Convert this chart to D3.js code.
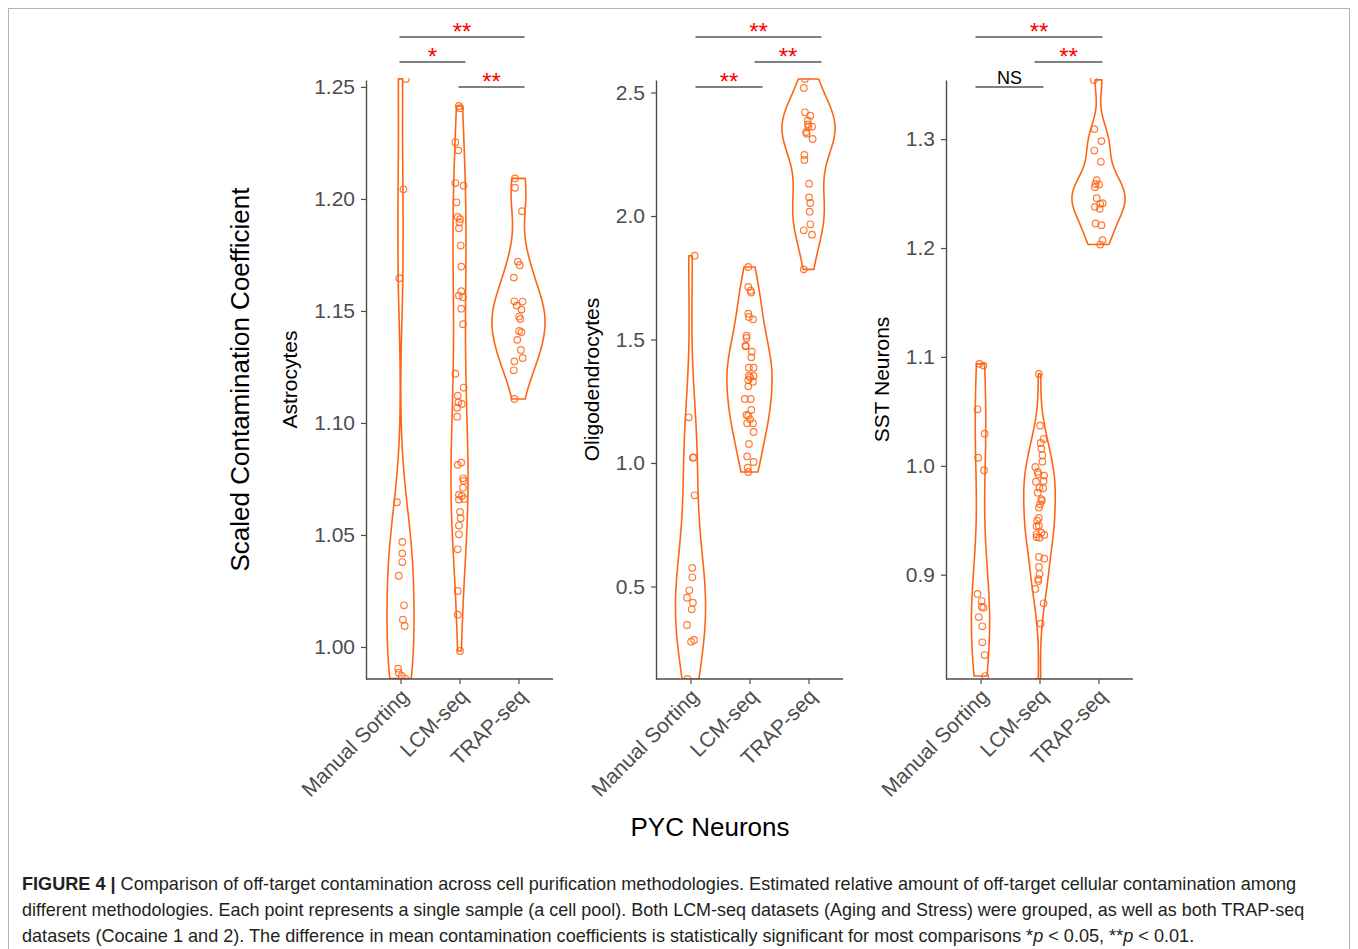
<!DOCTYPE html>
<html><head><meta charset="utf-8">
<script src="https://cdn.jsdelivr.net/npm/d3@7"></script>
<style>
body{margin:0;background:#fff}
svg{display:block}
text{font-family:"Liberation Sans",Arial,Helvetica,sans-serif}
</style>
</head><body>
<svg id="chart" width="1358" height="949"></svg>
<script>
// ---------------- DATA ----------------
const groups = ["Manual Sorting", "LCM-seq", "TRAP-seq"];
const panelTitles = ["Astrocytes", "Oligodendrocytes", "SST Neurons"];

// Astrocytes
const astroManual = [1.2536,1.2043,1.1646,1.0646,1.0469,1.0418,1.0379,1.0318,1.0186,1.0122,1.0094,0.9903,0.9885,0.9871,0.9859];
const astroManualJit = [0.09,0.05,-0.02,-0.06,0.03,0.03,0.03,-0.03,0.06,0.04,0.07,-0.04,-0.03,0.02,0.08];
const astroLCM = [1.2415,1.2405,1.2253,1.2217,1.2071,1.2059,1.1985,1.1920,1.1910,1.1896,1.1869,1.1792,1.1698,1.1588,1.1568,1.1561,1.1510,1.1441,1.1220,1.1158,1.1122,1.1092,1.1085,1.1068,1.1028,1.0823,1.0813,1.0753,1.0742,1.0711,1.0679,1.0674,1.0661,1.0658,1.0603,1.0575,1.0542,1.0503,1.0436,1.0250,1.0144,0.9982];
const astroLCMJit = [-0.01,0.01,-0.07,-0.02,-0.07,0.07,-0.05,-0.03,0.01,0,-0.01,0.02,0.03,0.03,-0.01,0.06,0.03,0.06,-0.07,0.07,-0.03,-0.02,0.04,-0.04,-0.04,0.03,-0.03,0.06,0.07,0.06,-0.01,0.04,0.08,-0.01,0.01,0.02,-0.01,-0.01,-0.03,-0.03,-0.03,0.01];
const astroTRAP = [1.2092,1.2050,1.1945,1.1720,1.1704,1.1649,1.1543,1.1542,1.1524,1.1506,1.1475,1.1464,1.1411,1.1405,1.1371,1.1326,1.1290,1.1275,1.1235,1.1107];
const astroTRAPJit = [-0.06,-0.06,0.06,-0.01,0.02,-0.08,-0.07,0.07,-0.03,0.05,0.01,0.03,0.01,0.05,-0.02,0.04,0.07,-0.07,-0.08,-0.07];
const astroTicks = [1.00,1.05,1.10,1.15,1.20,1.25];
const astroRange = [0.9857,1.2531];
const astroSig = [["Manual Sorting","TRAP-seq","**"],["Manual Sorting","LCM-seq","*"],["LCM-seq","TRAP-seq","**"]];

// Oligodendrocytes
const oligoManual = [1.8393,1.1850,1.0231,1.0215,0.8692,0.5749,0.5372,0.4846,0.4547,0.4344,0.4077,0.3441,0.2834,0.2765,0.1255];
const oligoManualJit = [0.07,-0.03,0.05,0.04,0.07,0.03,0.03,-0.02,-0.06,0.04,0.02,-0.06,0.06,0.01,-0.05];
const oligoLCM = [1.7935,1.7126,1.6977,1.6900,1.6045,1.5911,1.5816,1.5155,1.5061,1.4750,1.4723,1.4507,1.4278,1.3860,1.3860,1.3522,1.3534,1.3470,1.3360,1.3292,1.3105,1.2591,1.2591,1.2146,1.1943,1.1915,1.1769,1.1607,1.1607,1.1255,1.0769,1.0270,1.0040,0.9810,0.9636];
const oligoLCMJit = [-0.02,-0.02,0.02,0.03,-0.02,-0.01,0.06,-0.05,-0.05,-0.07,-0.06,0.04,0.03,-0.01,0.07,0.07,-0.01,0.01,-0.02,0.06,-0.02,-0.08,0.02,0.03,-0.05,-0.02,0.01,-0.04,0.06,0.07,-0.01,-0.04,0.07,-0.03,-0.02];
const oligoTRAP = [2.5547,2.5182,2.4198,2.4062,2.3873,2.3710,2.3617,2.3617,2.3401,2.3333,2.3117,2.2470,2.2267,2.1309,2.0756,2.0526,2.0175,1.9663,1.9420,1.9244,1.7841];
const oligoTRAPJit = [-0.06,-0.08,-0.06,0.03,-0.01,-0.01,0.06,0,-0.04,-0.03,0.07,-0.07,-0.07,0.01,0.01,0.03,0.02,0.03,-0.08,0.06,-0.08];
const oligoTicks = [0.5,1.0,1.5,2.0,2.5];
const oligoRange = [0.1255,2.5506];
const oligoSig = [["Manual Sorting","TRAP-seq","**"],["LCM-seq","TRAP-seq","**"],["Manual Sorting","LCM-seq","**"]];

// SST Neurons
const sstManual = [1.0936,1.0920,1.0519,1.0295,1.0075,0.9959,0.8823,0.8758,0.8706,0.8697,0.8611,0.8526,0.8379,0.8262,0.8069];
const sstManualJit = [-0.02,0.05,-0.05,0.07,-0.04,0.06,-0.05,0.02,0.02,0.05,-0.03,0.03,0.03,0.07,0.08];
const sstLCM = [1.0844,1.0369,1.0247,1.0210,1.0158,1.0097,1.0038,0.9989,0.9944,0.9922,0.9910,0.9861,0.9854,0.9799,0.9794,0.9753,0.9693,0.9680,0.9647,0.9616,0.9521,0.9496,0.9450,0.9445,0.9386,0.9371,0.9365,0.9345,0.9340,0.9163,0.9147,0.9071,0.9006,0.8960,0.8942,0.8869,0.8737,0.8550,0.8020];
const sstLCMJit = [-0.01,0.01,0.07,0.02,0.03,0.05,0.05,-0.07,-0.03,-0.02,0.08,0.07,-0.06,0,0.06,-0.03,0.03,0.04,0.01,-0.01,-0.01,-0.04,-0.01,-0.05,0.03,-0.05,0.08,-0.05,0,-0.01,0.08,-0.01,0,-0.02,-0.02,-0.07,0.07,0.02,-0.03];
const sstTRAP = [1.3544,1.3092,1.2982,1.2895,1.2792,1.2623,1.2589,1.2583,1.2559,1.2458,1.2412,1.2406,1.2378,1.2360,1.2225,1.2210,1.2072,1.2032];
const sstTRAPJit = [-0.08,-0.07,0.05,-0.07,0.04,-0.03,-0.05,0.01,-0.06,-0.03,0.07,0.03,-0.06,0.02,-0.05,0.05,0.07,0.03];
const sstTicks = [0.9,1.0,1.1,1.2,1.3];
const sstRange = [0.8042,1.3543];
const sstSig = [["Manual Sorting","TRAP-seq","**"],["LCM-seq","TRAP-seq","**"],["Manual Sorting","LCM-seq","NS"]];

const xTitle = "PYC Neurons";
const yTitle = "Scaled Contamination Coefficient";

// ---------------- LAYOUT / STYLE ----------------
const ORANGE = "#ff6414";
const AXIS = "#4d4d4d";
const lefts = [366, 656, 946];
const PW = 187, TOP = 80, BOTTOM = 679;
const sigY = [37, 62, 87];
const sigPad = [[-1, 6], [5, 13], [-5, 4]];

const panels = [
  {title: panelTitles[0], data: [astroManual, astroLCM, astroTRAP], jit: [astroManualJit, astroLCMJit, astroTRAPJit], ticks: astroTicks, fmt: d3.format(".2f"), range: astroRange, sig: astroSig},
  {title: panelTitles[1], data: [oligoManual, oligoLCM, oligoTRAP], jit: [oligoManualJit, oligoLCMJit, oligoTRAPJit], ticks: oligoTicks, fmt: d3.format(".1f"), range: oligoRange, sig: oligoSig},
  {title: panelTitles[2], data: [sstManual, sstLCM, sstTRAP], jit: [sstManualJit, sstLCMJit, sstTRAPJit], ticks: sstTicks, fmt: d3.format(".1f"), range: sstRange, sig: sstSig}
];

function nrd0(x) {
  const n = x.length;
  const s = d3.deviation(x);
  const sorted = x.slice().sort(d3.ascending);
  const iqr = d3.quantileSorted(sorted, 0.75) - d3.quantileSorted(sorted, 0.25);
  let lo = Math.min(s, iqr / 1.34);
  if (!(lo > 0)) lo = s || Math.abs(sorted[0]) || 1;
  return 0.9 * lo * Math.pow(n, -0.2);
}
function kdeAt(x, bw, t) {
  let sum = 0;
  for (const v of x) { const z = (t - v) / bw; sum += Math.exp(-0.5 * z * z); }
  return sum / (x.length * bw * Math.sqrt(2 * Math.PI));
}

const svg = d3.select("#chart");
const defs = svg.append("defs");

// outer frame
svg.append("rect").attr("x", 8.5).attr("y", 8.5).attr("width", 1341).attr("height", 980)
  .attr("fill", "none").attr("stroke", "#b3b3b3").attr("stroke-width", 1);

panels.forEach((p, i) => {
  const L = lefts[i];
  const x = d3.scalePoint().domain(groups).range([L, L + PW]).padding(0.585);
  const y = d3.scaleLinear().domain(p.range).range([BOTTOM, TOP]);
  const g = svg.append("g");

  defs.append("clipPath").attr("id", "clip" + i).append("rect")
    .attr("x", L).attr("y", TOP - 2).attr("width", PW).attr("height", BOTTOM - TOP + 2);
  const plot = g.append("g").attr("clip-path", `url(#clip${i})`);

  // densities
  const dens = p.data.map(vals => {
    const bw = nrd0(vals);
    const [lo, hi] = d3.extent(vals);
    return d3.range(512).map(k => { const t = lo + (hi - lo) * k / 511; return {v: t, d: kdeAt(vals, bw, t)}; });
  });
  const maxD = d3.max(dens, a => d3.max(a, e => e.d));
  const half = 0.45 * x.step();

  dens.forEach((a, gi) => {
    const cx = x(groups[gi]);
    const area = d3.area()
      .y(e => y(e.v))
      .x0(e => cx - e.d / maxD * half)
      .x1(e => cx + e.d / maxD * half);
    plot.append("path").attr("d", area(a))
      .attr("fill", "none").attr("stroke", ORANGE).attr("stroke-width", 1.6).attr("stroke-linejoin", "round");
  });

  p.data.forEach((vals, gi) => {
    plot.append("g").selectAll("circle").data(vals).join("circle")
      .attr("cx", (d, k) => x(groups[gi]) + p.jit[gi][k] * x.step())
      .attr("cy", d => y(d))
      .attr("r", 3.3)
      .attr("fill", "none").attr("stroke", ORANGE).attr("stroke-opacity", 0.85).attr("stroke-width", 1.2);
  });

  // y axis
  const ya = g.append("g").attr("transform", `translate(${L},0)`)
    .call(d3.axisLeft(y).tickValues(p.ticks).tickFormat(p.fmt).tickSize(5).tickSizeOuter(0).tickPadding(6));
  ya.attr("font-size", 21).attr("font-family", "Liberation Sans, Arial, sans-serif");
  ya.select(".domain").attr("stroke", AXIS).attr("stroke-width", 1.4);
  ya.selectAll(".tick line").attr("stroke", AXIS).attr("stroke-width", 1.2);
  ya.selectAll(".tick text").attr("fill", AXIS);

  // x axis
  const xa = g.append("g").attr("transform", `translate(0,${BOTTOM})`)
    .call(d3.axisBottom(x).tickSize(5).tickSizeOuter(0));
  xa.attr("font-size", 21).attr("font-family", "Liberation Sans, Arial, sans-serif");
  xa.select(".domain").attr("stroke", AXIS).attr("stroke-width", 1.4)
    .attr("d", `M${L},0H${L + PW}`);
  xa.selectAll(".tick line").attr("stroke", AXIS).attr("stroke-width", 1.2);
  xa.selectAll(".tick text").attr("fill", AXIS).attr("x", 0).attr("y", 0).attr("dy", 0)
    .attr("text-anchor", "end").attr("transform", "translate(9,19) rotate(-45)");

  // panel y title
  const bb = ya.node().getBBox();
  const tx = L + bb.x - 24;
  g.append("text").attr("transform", `translate(${tx},${(TOP + BOTTOM) / 2}) rotate(-90)`)
    .attr("text-anchor", "middle").attr("dy", "0.35em").attr("font-size", 21).attr("fill", "#000")
    .text(p.title);

  // significance brackets
  p.sig.forEach((s, lvl) => {
    const x1 = x(s[0]) + sigPad[i][0], x2 = x(s[1]) + sigPad[i][1];
    const yy = sigY[lvl];
    g.append("line").attr("x1", x1).attr("x2", x2).attr("y1", yy).attr("y2", yy)
      .attr("stroke", "#808080").attr("stroke-width", 1.8);
    const isNS = s[2] === "NS";
    g.append("text").attr("x", (x1 + x2) / 2).attr("y", isNS ? yy - 3 : yy + 3)
      .attr("text-anchor", "middle")
      .attr("font-size", isNS ? 18 : 24)
      .attr("fill", isNS ? "#000" : "#ff0000")
      .text(s[2]);
  });
});

// global titles
svg.append("text").attr("transform", `translate(240,${(TOP + BOTTOM) / 2}) rotate(-90)`)
  .attr("text-anchor", "middle").attr("dy", "0.35em").attr("font-size", 26).attr("fill", "#000")
  .text(yTitle);
svg.append("text").attr("x", 710).attr("y", 836).attr("text-anchor", "middle")
  .attr("font-size", 26).attr("fill", "#000").text(xTitle);

// caption
const capLines = [
  [["FIGURE 4 |", "b"], [" Comparison of off-target contamination across cell purification methodologies. Estimated relative amount of off-target cellular contamination among", ""]],
  [["different methodologies. Each point represents a single sample (a cell pool). Both LCM-seq datasets (Aging and Stress) were grouped, as well as both TRAP-seq", ""]],
  [["datasets (Cocaine 1 and 2). The difference in mean contamination coefficients is statistically significant for most comparisons *", ""], ["p", "i"], [" < 0.05, **", ""], ["p", "i"], [" < 0.01.", ""]]
];
const capBase = [890, 916, 942];
const capRight = [1297, 1305, 1195];
capLines.forEach((parts, li) => {
  const t = svg.append("text").attr("x", 22).attr("y", capBase[li]).attr("font-size", 17.5).attr("fill", "#231f20");
  parts.forEach(([s, st]) => {
    const ts = t.append("tspan").text(s);
    if (st === "b") ts.attr("font-weight", "bold");
    if (st === "i") ts.attr("font-style", "italic");
  });
  const w = t.node().getBBox().width;
  const sx = (capRight[li] - 22) / w;
  t.attr("transform", `translate(22,0) scale(${sx},1) translate(-22,0)`);
});
</script>
</body></html>
